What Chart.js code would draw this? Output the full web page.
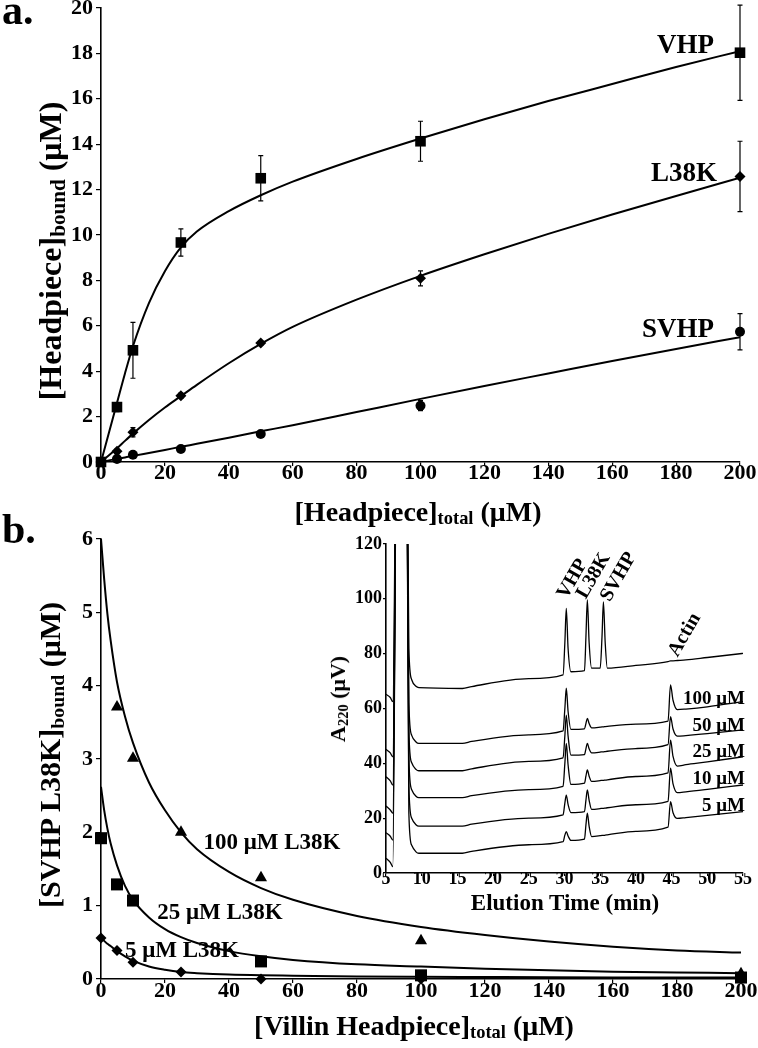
<!DOCTYPE html>
<html>
<head>
<meta charset="utf-8">
<script src="https://cdn.jsdelivr.net/npm/chart.js@4.4.1/dist/chart.umd.min.js"></script>
<style>
  body { margin: 0; background: #fff; }
  #page { position: relative; width: 758px; height: 1048px; overflow: hidden;
          font-family: 'Liberation Serif', 'Times New Roman', serif; font-weight: bold; color: #000; }
  .box { position: absolute; }
  .lbl { position: absolute; white-space: nowrap; line-height: 1; }
  .c { transform: translate(-50%, -50%); }
  .r { transform: translate(-100%, -50%); }
  .rot { transform: translate(-50%, -50%) rotate(-90deg); }
  .tilt { transform: translate(-50%, -50%) rotate(-60deg); }
  sub { font-size: 0.66em; vertical-align: -0.18em; line-height: 0; }
</style>
</head>
<body>
<div id="page">
  <div class="box" style="left:0;top:-12px"><canvas id="chartA" width="758" height="520"></canvas></div>
  <div class="box" style="left:0;top:520px"><canvas id="chartB" width="758" height="528"></canvas></div>
  <div class="box" style="left:330px;top:530px"><canvas id="chartC" width="428" height="400"></canvas></div>

  <div class="lbl" style="left:2px;top:-11px;font-size:42px">a.</div>
  <div class="lbl" style="left:2px;top:508px;font-size:42px">b.</div>

  <!-- panel a -->
  <div class="lbl c" style="left:418px;top:512px;font-size:28px">[Headpiece]<sub>total</sub> (μM)</div>
  <div class="lbl rot" style="left:50px;top:251px;font-size:32px">[Headpiece]<sub>bound</sub> (μM)</div>
  <div class="lbl r" style="left:714px;top:44px;font-size:27px">VHP</div>
  <div class="lbl r" style="left:717px;top:172px;font-size:27px">L38K</div>
  <div class="lbl r" style="left:714px;top:328px;font-size:27px">SVHP</div>

  <!-- panel b -->
  <div class="lbl c" style="left:414px;top:1026px;font-size:28px">[Villin Headpiece]<sub>total</sub> (μM)</div>
  <div class="lbl rot" style="left:50px;top:755px;font-size:30px">[SVHP L38K]<sub>bound</sub> (μM)</div>
  <div class="lbl c" style="left:272px;top:841px;font-size:23px">100 μM L38K</div>
  <div class="lbl c" style="left:220px;top:911px;font-size:23px">25 μM L38K</div>
  <div class="lbl c" style="left:182px;top:949px;font-size:23px">5 μM L38K</div>

  <!-- inset -->
  <div class="lbl c" style="left:565px;top:902px;font-size:23px">Elution Time (min)</div>
  <div class="lbl rot" style="left:338px;top:699px;font-size:22px">A<sub>220</sub> (μV)</div>
  <div class="lbl tilt" style="left:571px;top:578px;font-size:20px">VHP</div>
  <div class="lbl tilt" style="left:592px;top:575px;font-size:20px">L38K</div>
  <div class="lbl tilt" style="left:617px;top:576px;font-size:20px">SVHP</div>
  <div class="lbl tilt" style="left:683px;top:634px;font-size:20px">Actin</div>
  <div class="lbl r" style="left:745px;top:697px;font-size:19px">100 μM</div>
  <div class="lbl r" style="left:745px;top:724px;font-size:19px">50 μM</div>
  <div class="lbl r" style="left:745px;top:750px;font-size:19px">25 μM</div>
  <div class="lbl r" style="left:745px;top:777px;font-size:19px">10 μM</div>
  <div class="lbl r" style="left:745px;top:804px;font-size:19px">5 μM</div>
</div>

<script>
// ---- panel a: binding curves ----
const concA = [0, 5, 10, 25, 50, 100, 200];
const vhpBound = [0, 2.42, 4.92, 9.67, 12.5, 14.13, 18.03];
const vhpErr = [0, 0.2, 1.23, 0.6, 1.0, 0.88, 2.1];
const l38kBound = [0, 0.47, 1.31, 2.92, 5.24, 8.09, 12.58];
const l38kErr = [0, 0.1, 0.2, 0.12, 0.1, 0.33, 1.55];
const svhpBound = [0, 0.13, 0.32, 0.57, 1.23, 2.48, 5.74];
const svhpErr = [0, 0, 0.05, 0.08, 0.08, 0.22, 0.8];

const fitXA = [0, 2.5, 5, 7.5, 10, 15, 20, 25, 30, 40, 50, 60, 80, 100, 120, 140, 160, 180, 200];
const vhpFit = [0, 1.3, 2.6, 3.9, 5.1, 7.0, 8.4, 9.45, 10.15, 11.05, 11.75, 12.35, 13.35, 14.25, 15.1, 15.9, 16.65, 17.4, 18.1];
const l38kFit = [0, 0.3, 0.6, 0.93, 1.25, 1.85, 2.4, 2.9, 3.4, 4.35, 5.2, 5.95, 7.15, 8.2, 9.15, 10.05, 10.9, 11.72, 12.52];
const svhpFit = [0, 0.07, 0.14, 0.2, 0.27, 0.4, 0.53, 0.67, 0.8, 1.07, 1.35, 1.62, 2.2, 2.78, 3.35, 3.9, 4.45, 4.98, 5.5];

// ---- panel b: competition ----
const concB = [0, 5, 10, 25, 50, 100, 200];
const svhp100 = [null, 3.71, 3.01, 2.0, 1.38, 0.52, 0.07];
const svhp25 = [1.92, 1.29, 1.07, null, 0.24, 0.05, 0.02];
const svhp5 = [0.56, 0.39, 0.23, 0.095, 0.0, 0.0, 0.03];

const fitXB = [0, 1, 2, 3, 5, 7.5, 10, 15, 20, 25, 30, 40, 50, 60, 80, 100, 120, 140, 160, 180, 200];
const fit100 = [6.0, 5.45, 4.98, 4.62, 4.05, 3.58, 3.22, 2.68, 2.3, 2.0, 1.77, 1.46, 1.24, 1.08, 0.86, 0.71, 0.6, 0.51, 0.44, 0.39, 0.36];
const fit25 = [2.62, 2.3, 2.05, 1.85, 1.55, 1.27, 1.08, 0.84, 0.68, 0.57, 0.49, 0.38, 0.31, 0.26, 0.2, 0.17, 0.14, 0.12, 0.1, 0.09, 0.08];
const fit5 = [0.56, 0.52, 0.48, 0.45, 0.38, 0.31, 0.25, 0.17, 0.125, 0.095, 0.08, 0.06, 0.05, 0.045, 0.035, 0.03, 0.027, 0.024, 0.022, 0.02, 0.02];

// ---- inset: chromatograms (A220, uV) ----
const elution = [5, 5.6, 5.95, 6.6, 7.8, 8.2, 8.6, 9.2, 9.6, 15.7, 17, 25, 29.8, 30.05, 30.25, 30.5, 30.9, 32.8, 33.0, 33.2, 33.45, 33.8, 35.0, 35.25, 35.45, 35.7, 36.0, 40, 44.5, 44.85, 45.2, 45.8, 47, 50, 55];
const traceRef = [65.2, 64, 62.5, 200, 200, 82, 70.5, 68.1, 67.6, 67.3, 68.0, 70.9, 72.3, 84, 96.5, 82, 73.4, 73.8, 86, 99.6, 84, 74.7, 74.7, 86, 98.9, 84, 74.7, 75.7, 77.1, 77.4, 77.4, 77.5, 77.7, 78.6, 80.1];
const trace100 = [45.1, 43.8, 42.4, 200, 200, 62, 50.2, 47.8, 47.3, 47.3, 48.0, 50.4, 51.8, 60, 67.4, 59, 52.4, 52.6, 54.5, 56.4, 54.5, 52.9, 53.2, 53.3, 53.3, 53.4, 53.5, 54.3, 55.4, 68.6, 63, 59.6, 59.8, 60.6, 62.5];
const trace50 = [35.1, 33.6, 32.1, 200, 200, 52, 40.2, 37.8, 37.3, 37.3, 38.0, 40.7, 42.0, 50, 57.6, 50, 43.0, 43.2, 45.3, 47.3, 45.3, 43.8, 44.1, 44.2, 44.2, 44.3, 44.4, 45.4, 46.8, 57.0, 52.5, 49.9, 50.1, 50.8, 52.2];
const trace25 = [24.4, 23.0, 21.8, 200, 200, 42, 30.4, 28.0, 27.5, 27.5, 28.2, 30.4, 31.6, 40, 47.3, 39.5, 32.3, 32.8, 35.3, 37.6, 35.3, 33.4, 33.7, 33.8, 33.8, 33.9, 34.0, 35.2, 36.5, 48.5, 42.5, 39.0, 39.5, 40.5, 42.4];
const trace10 = [14.7, 13.4, 12.0, 200, 200, 32, 20.0, 17.6, 17.1, 17.1, 17.8, 20.0, 21.2, 25.5, 28.4, 25, 22.0, 22.4, 26.5, 30.3, 26.5, 23.2, 23.5, 23.6, 23.6, 23.7, 23.8, 24.9, 26.1, 38.2, 32.5, 29.3, 29.6, 30.5, 32.1];
const trace5 = [5.4, 3.9, 2.3, 200, 200, 22, 10.1, 7.7, 7.2, 7.2, 7.9, 10.3, 11.4, 13.8, 15.1, 13.5, 11.9, 12.4, 17.5, 21.8, 17, 13.3, 13.6, 13.7, 13.7, 13.8, 13.9, 15.2, 16.7, 26.0, 22, 19.9, 20.2, 21.0, 22.4];

Chart.defaults.font.family = "'Liberation Serif', 'Times New Roman', serif";
Chart.defaults.font.weight = 'bold';
Chart.defaults.color = '#000';
Chart.defaults.animation = false;

function pts(xs, ys) {
    return xs.map((x, i) => ({ x: x, y: ys[i] })).filter(p => p.y !== null);
}

function axis(min, max, step, size, tickLen, pad, fit) {
    return {
        type: 'linear', min: min, max: max,
        ticks: { stepSize: step, autoSkip: false, maxRotation: 0, padding: pad, color: '#000',
                 font: { size: size, lineHeight: 1 } },
        grid: { drawOnChartArea: false, drawTicks: true, tickLength: tickLen, color: '#000', lineWidth: 1.2 },
        border: { color: '#000', width: 1.6 },
        afterFit: fit
    };
}

function markers(data, style, radius, errs) {
    return { data: data, showLine: false, pointStyle: style, pointRadius: radius, pointHoverRadius: radius,
             backgroundColor: '#000', borderColor: '#000', borderWidth: 0, clip: false, errs: errs };
}

function curve(data, width) {
    return { data: data, showLine: true, pointRadius: 0, borderColor: '#000', borderWidth: width,
             cubicInterpolationMode: 'monotone', fill: false };
}

// error bars drawn under the markers
const errorBars = {
    id: 'errorBars',
    beforeDatasetsDraw(chart) {
        let ctx = chart.ctx;
        let xs = chart.scales.x, ys = chart.scales.y;
        ctx.save();
        ctx.strokeStyle = '#000';
        ctx.lineWidth = 1.2;
        chart.data.datasets.forEach(ds => {
            if (!ds.errs) return;
            ds.data.forEach((p, i) => {
                let e = ds.errs[i];
                if (!e) return;
                let px = xs.getPixelForValue(p.x);
                let top = ys.getPixelForValue(p.y + e);
                let bot = ys.getPixelForValue(p.y - e);
                ctx.beginPath();
                ctx.moveTo(px, top); ctx.lineTo(px, bot);
                ctx.moveTo(px - 2.5, top); ctx.lineTo(px + 2.5, top);
                ctx.moveTo(px - 2.5, bot); ctx.lineTo(px + 2.5, bot);
                ctx.stroke();
            });
        });
        ctx.restore();
    }
};

const common = { responsive: false, plugins: { legend: { display: false }, tooltip: { enabled: false } } };

// panel a
new Chart(document.getElementById('chartA'), {
    type: 'scatter',
    data: {
        datasets: [
            markers(pts(concA, vhpBound), 'rect', 7.5, vhpErr),
            markers(pts(concA, l38kBound), 'rectRot', 5.5, l38kErr),
            markers(pts(concA, svhpBound), 'circle', 5, svhpErr),
            curve(pts(fitXA, vhpFit), 2),
            curve(pts(fitXA, l38kFit), 2),
            curve(pts(fitXA, svhpFit), 2)
        ]
    },
    options: Object.assign({}, common, {
        layout: { padding: { top: 20, right: 18, left: 0, bottom: 0 } },
        scales: {
            x: axis(0, 200, 20, 22, 4, -4, s => { s.height = 46; }),
            y: axis(0, 20, 2, 22, 5, 3, s => { s.width = 101; })
        }
    }),
    plugins: [errorBars]
});

// panel b
new Chart(document.getElementById('chartB'), {
    type: 'scatter',
    data: {
        datasets: [
            markers(pts(concB, svhp100), 'triangle', 7, null),
            markers(pts(concB, svhp25), 'rect', 8.5, null),
            markers(pts(concB, svhp5), 'rectRot', 5.5, null),
            curve(pts(fitXB, fit100), 2),
            curve(pts(fitXB, fit25), 2),
            curve(pts(fitXB, fit5), 2)
        ]
    },
    options: Object.assign({}, common, {
        layout: { padding: { top: 19, right: 17, left: 0, bottom: 0 } },
        scales: {
            x: axis(0, 200, 20, 22, 4, -3, s => { s.height = 69; }),
            y: axis(0, 6, 1, 22, 5, 3, s => { s.width = 101; })
        }
    })
});

// inset chromatograms
new Chart(document.getElementById('chartC'), {
    type: 'scatter',
    data: {
        datasets: [traceRef, trace100, trace50, trace25, trace10, trace5].map(t => curve(pts(elution, t), 1.3))
    },
    options: Object.assign({}, common, {
        layout: { padding: { top: 14, right: 15, left: 0, bottom: 0 } },
        scales: {
            x: axis(5, 55, 5, 18, 3, -6, s => { s.height = 57; }),
            y: axis(0, 120, 20, 18, 3, 1, s => { s.width = 56; })
        }
    })
});
</script>
</body>
</html>
